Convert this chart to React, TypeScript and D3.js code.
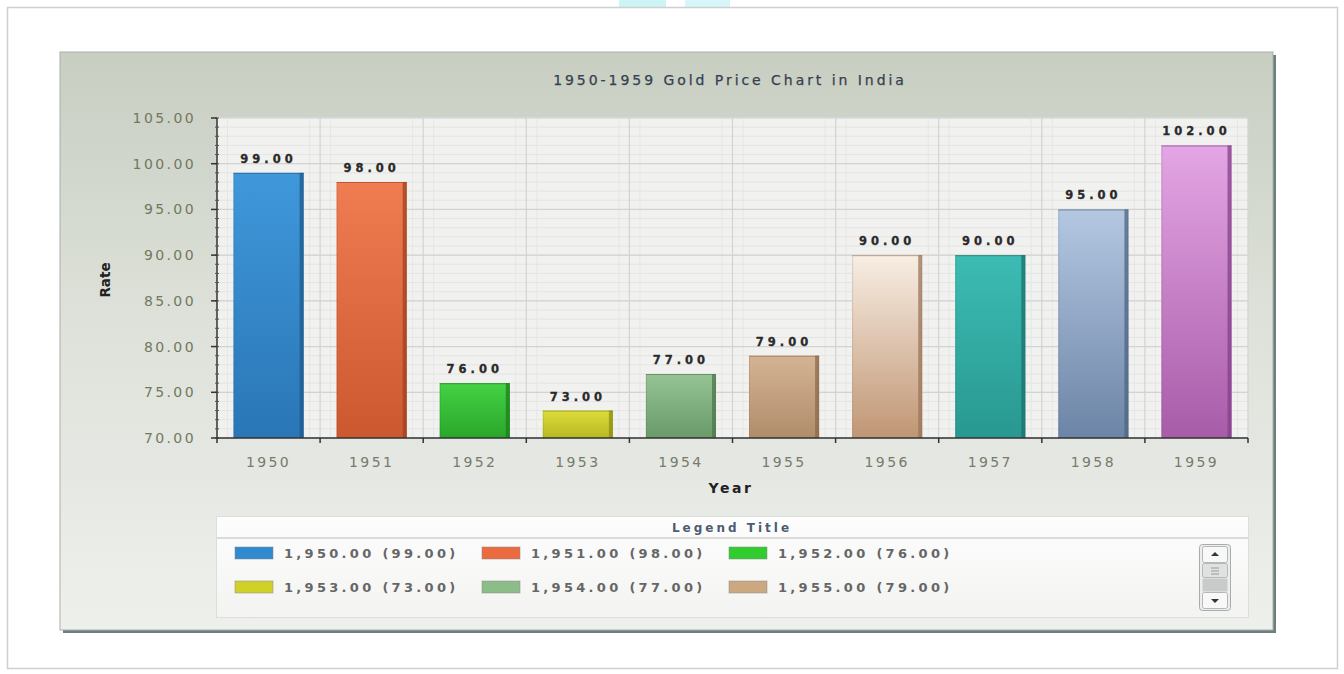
import React from "react";
import * as d3 from "d3";

const years = ["1950", "1951", "1952", "1953", "1954", "1955", "1956", "1957", "1958", "1959"];
const rates = [99, 98, 76, 73, 77, 79, 90, 90, 95, 102];
const topColors = ["#3f98da", "#f07c52", "#44d244", "#dcdc3c", "#96c494", "#d4b494", "#f8eee4", "#3cbcb4", "#b4c8e2", "#e4a6e4"];
const bottomColors = ["#2a76b6", "#cc5830", "#2aa62a", "#b8b822", "#6a9a6a", "#b08c6a", "#c09674", "#289890", "#6c84a6", "#a85ca8"];
const edgeColors = ["#1f5a8c", "#a0421f", "#1e7e1e", "#8c8c14", "#4e764e", "#8a6a4c", "#9a7458", "#1c726c", "#4e6482", "#84408a"];
const legendColors = ["#2f8ad0", "#ec6a40", "#30cc30", "#d0d028", "#8cbc88", "#cca880"];
const yTicks = [70, 75, 80, 85, 90, 95, 100, 105];
const chartTitle = "1950-1959 Gold Price Chart in India";
const xTitle = "Year";
const yTitle = "Rate";
const legendTitle = "Legend Title";

const fmt2 = d3.format(".2f");
const fmtYear = d3.format(",.2f");

export default function App() {
  const W = 1344, H = 674;
  const plotL = 217, plotR = 1248, plotT = 118, plotB = 438;
  const x = d3.scaleBand<string>().domain(years).range([plotL, plotR]).padding(0);
  const y = d3.scaleLinear().domain([70, 105]).range([plotB, plotT]);
  const minor = d3.range(70, 105.01, 1);
  const barW = x.bandwidth() * 0.68;
  const font = "'DejaVu Sans', Verdana, sans-serif";
  const legendItems = years.slice(0, 6).map((yr, i) => ({
    label: `${fmtYear(+yr)} (${fmt2(rates[i])})`,
    color: legendColors[i],
    col: i % 3,
    row: Math.floor(i / 3),
  }));
  const legColX = d3.scaleLinear().domain([0, 1]).range([235, 482]);
  const legRowY = d3.scaleLinear().domain([0, 1]).range([553, 587]);

  return (
    <svg width={W} height={H} style={{ position: "absolute", left: 0, top: 0, display: "block" }}>
      <defs>
        <linearGradient id="panelBg" x1="0" y1="0" x2="0" y2="1">
          <stop offset="0" stopColor="#c8cec2" />
          <stop offset="0.45" stopColor="#dde1d9" />
          <stop offset="1" stopColor="#eef0ec" />
        </linearGradient>
        <linearGradient id="legendBg" x1="0" y1="0" x2="0" y2="1">
          <stop offset="0" stopColor="#fdfdfd" />
          <stop offset="1" stopColor="#f3f4f2" />
        </linearGradient>
        {years.map((yr, i) => (
          <linearGradient key={yr} id={`bar${i}`} x1="0" y1="0" x2="0" y2="1">
            <stop offset="0" stopColor={topColors[i]} />
            <stop offset="1" stopColor={bottomColors[i]} />
          </linearGradient>
        ))}
      </defs>
      <rect x={0} y={0} width={W} height={H} fill="#ffffff" />
      <rect x={619} y={0} width={47} height={7} fill="#cdf5f8" />
      <rect x={685} y={0} width={45} height={7} fill="#d6f6f9" />
      {/* outer frame */}
      <rect x={7.5} y={7.5} width={1330} height={661} fill="#ffffff" stroke="#cfcfcf" strokeWidth={1.5} />
      {/* chart panel */}
      <rect x={63} y={55} width={1213} height={578} fill="#6e7e80" />
      <rect x={60} y={52} width={1213} height={578} fill="url(#panelBg)" stroke="#a9b0a6" strokeWidth={1} />
      <text x={730} y={85} textAnchor="middle" fontFamily={font} fontSize={14} letterSpacing={2.95} fill="#34424f" stroke="#34424f" strokeWidth={0.25}>
        {chartTitle}
      </text>
      {/* plot background */}
      <rect x={plotL} y={plotT} width={plotR - plotL} height={plotB - plotT} fill="#f1f1f0" />
      {minor.map((v) => (
        <line key={`mg${v}`} x1={plotL} x2={plotR} y1={y(v)} y2={y(v)} stroke="#e4e4e4" strokeWidth={1} />
      ))}
      {years.map((yr) => (
        <line key={`mv${yr}`} x1={x(yr)! + x.bandwidth() / 2 - barW / 2 - 6} x2={x(yr)! + x.bandwidth() / 2 - barW / 2 - 6} y1={plotT} y2={plotB} stroke="#e6e6e6" />
      ))}
      {years.map((yr) => (
        <line key={`mv2${yr}`} x1={x(yr)! + x.bandwidth() / 2 + barW / 2 + 6} x2={x(yr)! + x.bandwidth() / 2 + barW / 2 + 6} y1={plotT} y2={plotB} stroke="#e6e6e6" />
      ))}
      {yTicks.map((v) => (
        <line key={`g${v}`} x1={plotL} x2={plotR} y1={y(v)} y2={y(v)} stroke="#d3d3d3" strokeWidth={1.2} />
      ))}
      {years.map((yr) => (
        <line key={`vg${yr}`} x1={x(yr)! + x.bandwidth()} x2={x(yr)! + x.bandwidth()} y1={plotT} y2={plotB} stroke="#d3d3d3" strokeWidth={1.2} />
      ))}
      {/* bars */}
      {years.map((yr, i) => {
        const bx = x(yr)! + x.bandwidth() / 2 - barW / 2;
        const by = y(rates[i]);
        const bh = plotB - by;
        return (
          <g key={`b${yr}`}>
            <rect x={bx} y={by} width={barW} height={bh} fill={`url(#bar${i})`} />
            <rect x={bx + barW - 4} y={by} width={4} height={bh} fill={edgeColors[i]} opacity={0.75} />
            <line x1={bx} x2={bx + barW} y1={by + 0.5} y2={by + 0.5} stroke={edgeColors[i]} strokeOpacity={0.5} />
            <rect x={bx + 0.5} y={by + 0.5} width={barW - 1} height={bh - 1} fill="none" stroke={edgeColors[i]} strokeOpacity={0.25} />
            <text x={bx + barW / 2} y={by - 10} textAnchor="middle" fontFamily={font} fontWeight="bold" fontSize={11.5} letterSpacing={4} fill="#2a2a2a" stroke="#2a2a2a" strokeWidth={0.3}>
              {fmt2(rates[i])}
            </text>
          </g>
        );
      })}
      {/* y axis */}
      <line x1={plotL} x2={plotL} y1={plotT} y2={plotB} stroke="#333" strokeWidth={1.5} />
      {minor.map((v) => (
        <line key={`mt${v}`} x1={plotL - 2} x2={plotL + 2} y1={y(v)} y2={y(v)} stroke="#555" strokeWidth={1} />
      ))}
      {yTicks.map((v) => (
        <g key={`yt${v}`}>
          <line x1={plotL - 6} x2={plotL} y1={y(v)} y2={y(v)} stroke="#333" strokeWidth={1.5} />
          <text x={196} y={y(v) + 5} textAnchor="end" fontFamily={font} fontSize={14} letterSpacing={2.4} fill="#73775f">
            {fmt2(v)}
          </text>
        </g>
      ))}
      {/* x axis */}
      <line x1={plotL} x2={plotR} y1={plotB} y2={plotB} stroke="#333" strokeWidth={1.5} />
      {years.map((yr) => (
        <g key={`xt${yr}`}>
          <line x1={x(yr)! + x.bandwidth()} x2={x(yr)! + x.bandwidth()} y1={plotB} y2={plotB + 5} stroke="#333" strokeWidth={1.5} />
          <text x={x(yr)! + x.bandwidth() / 2} y={467} textAnchor="middle" fontFamily={font} fontSize={14} letterSpacing={2.4} fill="#777a6c">
            {yr}
          </text>
        </g>
      ))}
      <line x1={plotL} x2={plotL} y1={plotB} y2={plotB + 5} stroke="#333" strokeWidth={1.5} />
      <text x={731} y={493} textAnchor="middle" fontFamily={font} fontWeight="bold" fontSize={14} letterSpacing={2.6} fill="#222">
        {xTitle}
      </text>
      <text transform="translate(110,280) rotate(-90)" textAnchor="middle" fontFamily={font} fontWeight="bold" fontSize={13.5} fill="#222">
        {yTitle}
      </text>
      {/* legend */}
      <rect x={216.5} y={516.5} width={1032} height={101} fill="url(#legendBg)" stroke="#dcdedb" strokeWidth={1} />
      <line x1={217} x2={1248} y1={538} y2={538} stroke="#d0d2cf" strokeWidth={1.5} />
      <text x={732} y={532} textAnchor="middle" fontFamily={font} fontWeight="bold" fontSize={12} letterSpacing={3} fill="#4c5c72">
        {legendTitle}
      </text>
      {legendItems.map((it) => (
        <g key={it.label}>
          <rect x={legColX(it.col)} y={legRowY(it.row) - 6} width={38} height={12} fill={it.color} stroke="#8a8a8a" strokeOpacity={0.5} />
          <text x={legColX(it.col) + 49} y={legRowY(it.row) + 5} fontFamily={font} fontWeight="bold" fontSize={13} letterSpacing={3.3} fill="#666666">
            {it.label}
          </text>
        </g>
      ))}
      {/* scrollbar */}
      <rect x={1199.5} y={544.5} width={31} height={66} rx={3} fill="#eceeed" stroke="#a8acaa" />
      <rect x={1202.5} y={546.5} width={25} height={16} rx={2} fill="#f8f8f8" stroke="#b4b8b6" />
      <path d="M1211,556 L1219,556 L1215,552 Z" fill="#333" />
      <rect x={1202.5} y={563.5} width={25} height={14} rx={2} fill="#dfe2e0" stroke="#b4b8b6" />
      <line x1={1211} x2={1219} y1={568} y2={568} stroke="#999" />
      <line x1={1211} x2={1219} y1={571} y2={571} stroke="#999" />
      <line x1={1211} x2={1219} y1={574} y2={574} stroke="#999" />
      <rect x={1202.5} y={578.5} width={25} height={13} fill="#c8cbc9" />
      <rect x={1202.5} y={592.5} width={25} height={16} rx={2} fill="#f8f8f8" stroke="#b4b8b6" />
      <path d="M1211,599 L1219,599 L1215,603 Z" fill="#333" />
    </svg>
  );
}
